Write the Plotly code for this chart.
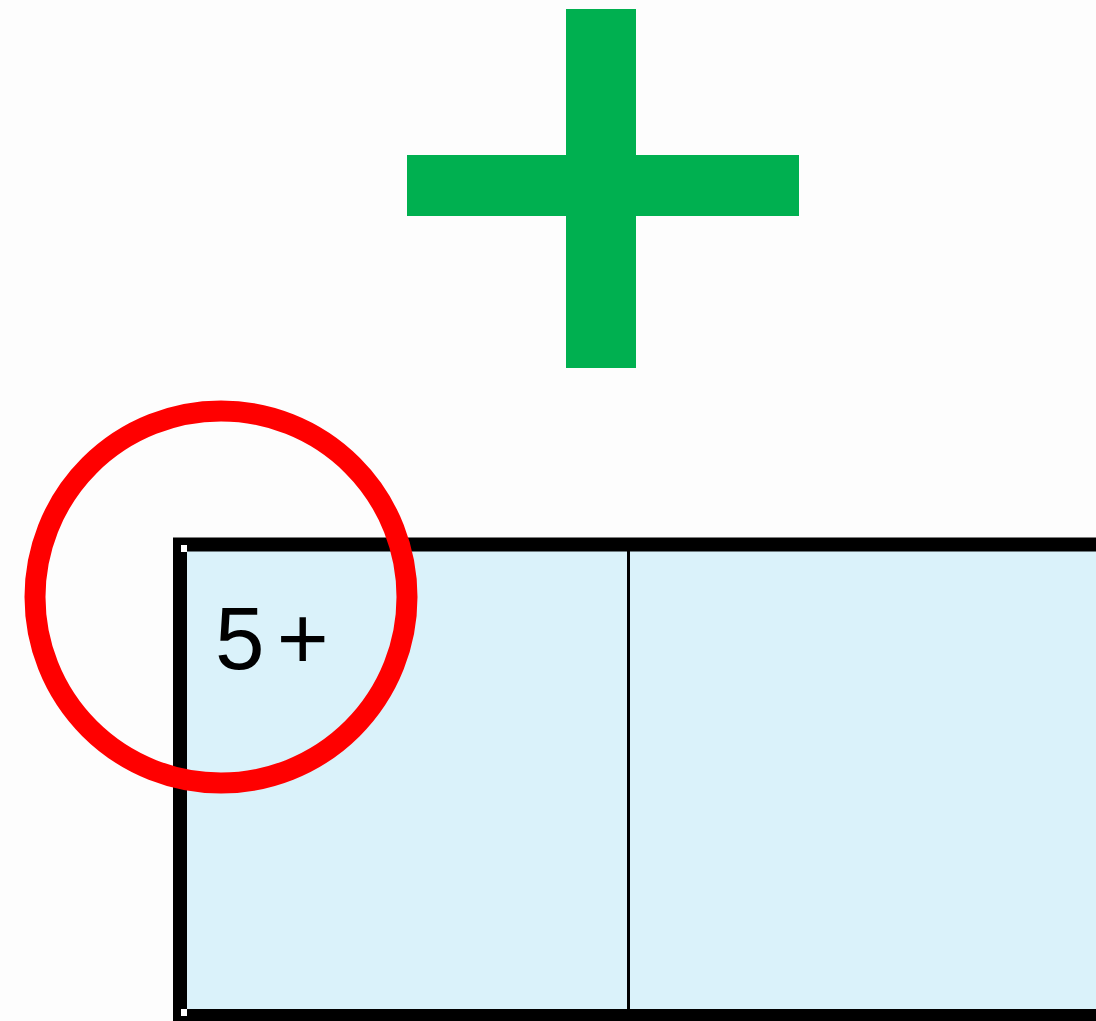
import plotly.graph_objects as go

W, H = 1096, 1021

# Elements of the picture
cell_labels = ["5+", ""]
cell_fill = "#daf2fa"
plus_color = "#00b050"
ring_color = "#ff0000"

# geometry (pixel space)
plus_vbar = (566, 9, 636, 368)
plus_hbar = (407, 155, 799, 216)
ring_center = (221, 597)
ring_radius = 186
ring_width = 21
table_box = (180, 544.5, 1130, 1016)
table_border = 14
divider_x = 628.5

fig = go.Figure()

shapes = []
# table
shapes.append(dict(type="rect", xref="x", yref="y",
                   x0=table_box[0], y0=table_box[1], x1=table_box[2], y1=table_box[3],
                   fillcolor=cell_fill, line=dict(color="black", width=table_border), layer="above"))
shapes.append(dict(type="line", xref="x", yref="y",
                   x0=divider_x, x1=divider_x, y0=table_box[1], y1=table_box[3],
                   line=dict(color="black", width=3), layer="above"))
# selection handles
for (hx, hy) in [(184, 548.5), (184, 1012.5)]:
    shapes.append(dict(type="rect", xref="x", yref="y", x0=hx - 3, x1=hx + 3, y0=hy - 3.5, y1=hy + 3.5,
                       fillcolor="white", line=dict(width=0), layer="above"))
# plus sign
for b in (plus_vbar, plus_hbar):
    shapes.append(dict(type="rect", xref="x", yref="y", x0=b[0], y0=b[1], x1=b[2], y1=b[3],
                       fillcolor=plus_color, line=dict(width=0), layer="above"))
# red ring
cx, cy = ring_center
shapes.append(dict(type="circle", xref="x", yref="y",
                   x0=cx - ring_radius, x1=cx + ring_radius, y0=cy - ring_radius, y1=cy + ring_radius,
                   line=dict(color=ring_color, width=ring_width), fillcolor="rgba(0,0,0,0)", layer="above"))

fig.add_trace(go.Scatter(x=[0, W], y=[0, H], mode="markers", marker=dict(opacity=0),
                         hoverinfo="skip", showlegend=False))

label = cell_labels[0]
label_html = label[0] + "<span style='font-size:44px'> </span>" + label[1:]
fig.add_annotation(x=213, y=638, xref="x", yref="y", text=label_html,
                   showarrow=False, xanchor="left", yanchor="middle",
                   font=dict(family="Liberation Sans, Arial", size=89, color="black"))

fig.update_layout(
    width=W, height=H, autosize=False,
    margin=dict(l=0, r=0, t=0, b=0, pad=0),
    paper_bgcolor="#fdfdfd", plot_bgcolor="#fdfdfd",
    xaxis=dict(range=[0, W], visible=False, fixedrange=True),
    yaxis=dict(range=[H, 0], visible=False, fixedrange=True),
    shapes=shapes,
    showlegend=False,
)

fig.write_html("out.html", config={"displayModeBar": False},
               post_script="document.body.style.margin='0';document.body.style.overflow='hidden';")
